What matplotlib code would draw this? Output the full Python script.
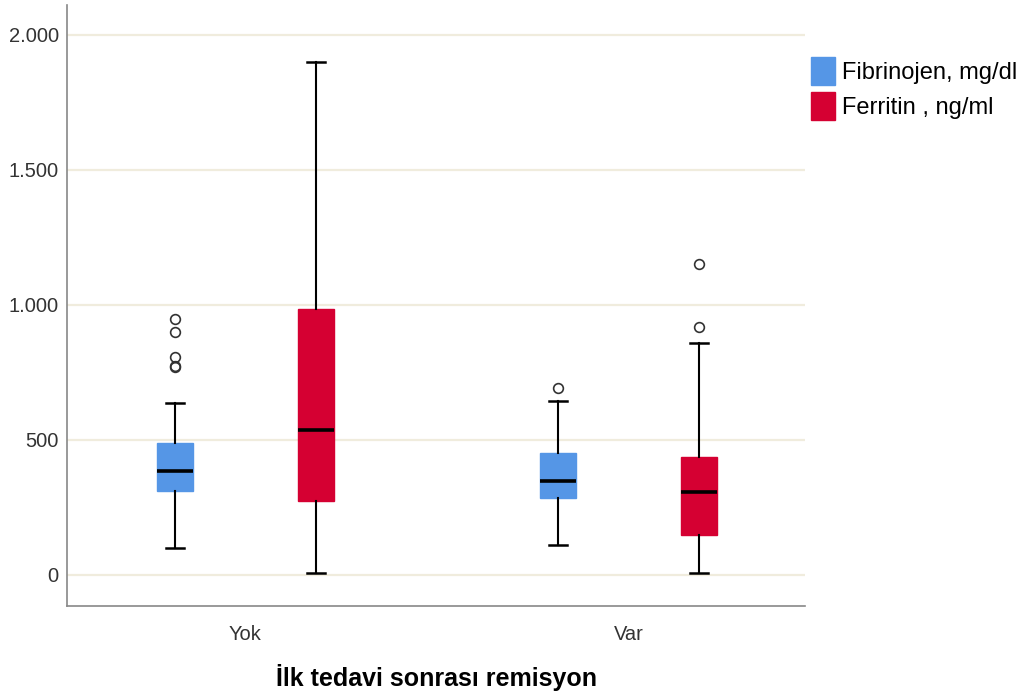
import matplotlib.pyplot as plt
from matplotlib.patches import Patch

groups = ['Yok', 'Var']
series = ['Fibrinojen, mg/dl', 'Ferritin , ng/ml']
colors = ['#5596E6', '#D50032']

# box summaries per series, one entry per group: whislo, q1, med, q3, whishi, outliers
fib_stats = [
    (100, 312, 385, 490, 638, [948, 899, 806, 775, 769]),
    (112, 286, 347, 451, 643, [694]),
]
fer_stats = [
    (6, 273, 538, 985, 1900, []),
    (6, 148, 309, 436, 860, [1151, 917]),
]

def to_bxp(rows):
    return [dict(whislo=lo, q1=q1, med=med, q3=q3, whishi=hi, fliers=fl)
            for lo, q1, med, q3, hi, fl in rows]

plt.rcParams['font.family'] = ['Liberation Sans', 'DejaVu Sans']

fig = plt.figure(figsize=(10.23, 6.97), dpi=100)
ax = fig.add_axes([0.0655, 0.1306, 0.7215, 0.8622])

offset = 0.184
width = 0.094
for k, (stats, col) in enumerate(zip([fib_stats, fer_stats], colors)):
    pos = [i + (offset if k else -offset) for i in range(len(groups))]
    ax.bxp(to_bxp(stats), positions=pos, widths=width, patch_artist=True,
           boxprops=dict(facecolor=col, edgecolor=col, linewidth=1),
           medianprops=dict(color='black', linewidth=2.6),
           whiskerprops=dict(color='black', linewidth=1.5),
           capprops=dict(color='black', linewidth=1.8),
           capwidths=0.046,
           flierprops=dict(marker='o', markerfacecolor='none',
                           markeredgecolor='#333333', markersize=7,
                           markeredgewidth=1.2),
           zorder=3)

ax.set_xlim(-0.466, 1.461)
ax.set_ylim(-115, 2111)
ax.set_yticks([0, 500, 1000, 1500, 2000])
ax.set_yticklabels(['0', '500', '1.000', '1.500', '2.000'])
ax.set_xticks(range(len(groups)))
ax.set_xticklabels(groups)
ax.yaxis.grid(True, color='#F0ECDD', linewidth=1.6, zorder=0)
ax.set_axisbelow(True)
ax.tick_params(length=0, labelsize=14.5, labelcolor='#333333')
ax.tick_params(axis='x', pad=14)
ax.tick_params(axis='y', pad=6)
for s in ['top', 'right']:
    ax.spines[s].set_visible(False)
for s in ['left', 'bottom']:
    ax.spines[s].set_color('#888888')
    ax.spines[s].set_linewidth(1.2)

ax.set_xlabel('İlk tedavi sonrası remisyon', fontsize=18, fontweight='bold',
              labelpad=14)

handles = [Patch(facecolor=c, edgecolor=c) for c in colors]
fig.legend(handles, series, loc='upper left', bbox_to_anchor=(0.793, 0.918),
           frameon=False, fontsize=17, handlelength=1.0, handleheight=1.45,
           handletextpad=0.3, labelspacing=0.3, borderpad=0, borderaxespad=0)

fig.savefig('out.png', dpi=100)
